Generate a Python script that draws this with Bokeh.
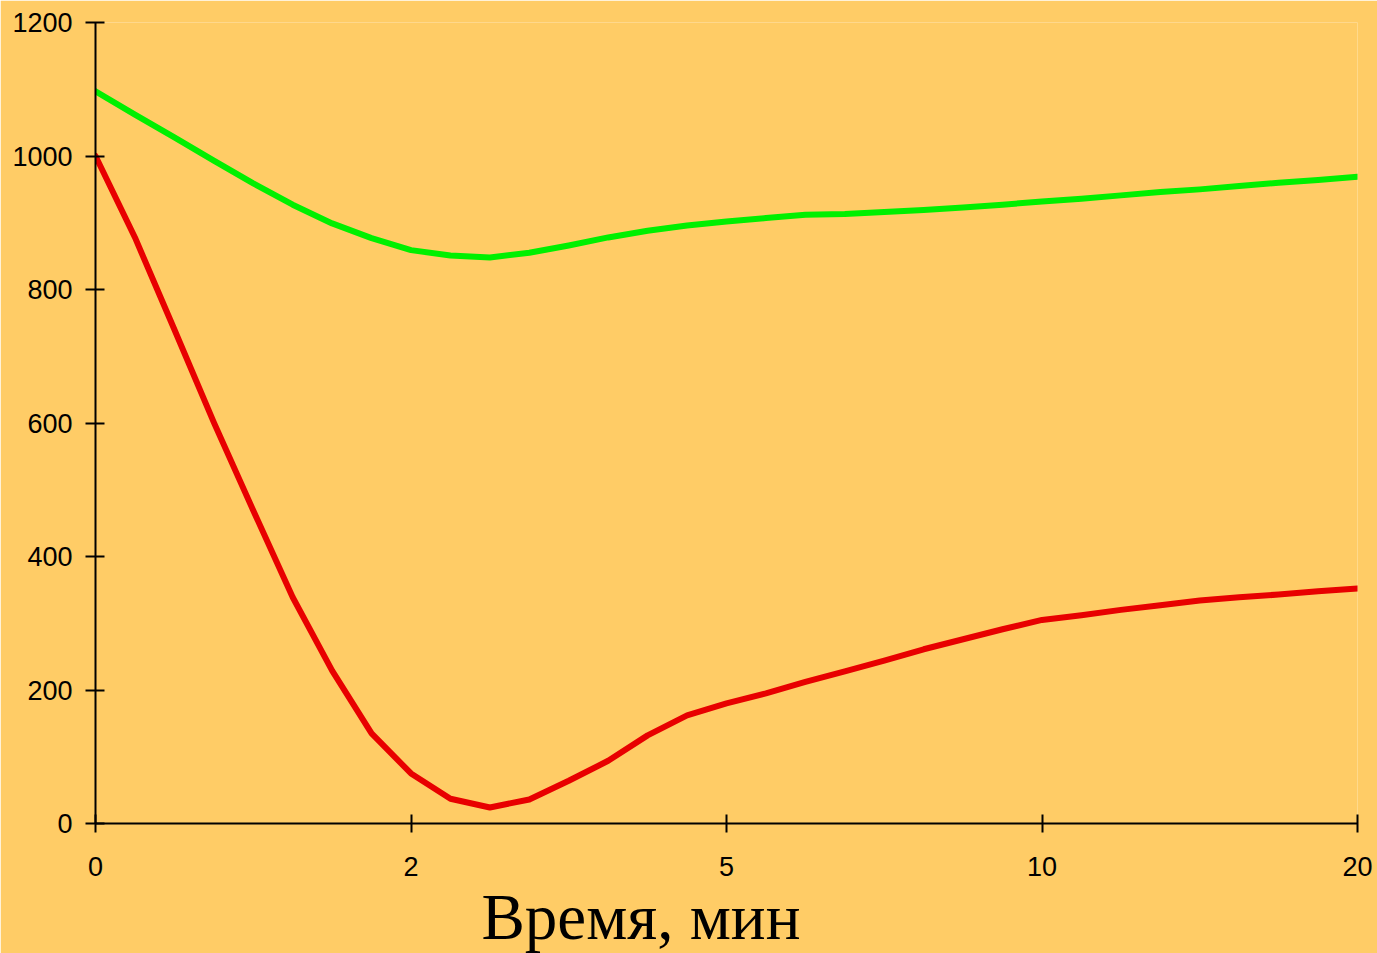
from bokeh.plotting import figure
from bokeh.models import Range1d, FixedTicker, Title
from bokeh.embed import file_html
from bokeh.resources import INLINE

# Category axis: 33 equally spaced samples, labelled every 8th sample
tick_positions = [0, 8, 16, 24, 32]
tick_labels = ["0", "2", "5", "10", "20"]
sample_index = list(range(33))

green_values = [1097, 1062, 1028, 993, 959, 927, 899, 877, 859, 851, 848,
                855, 866, 878, 888, 896, 902, 907, 912, 913, 916, 919,
                923, 927, 932, 936, 941, 946, 950, 955, 960, 964, 969]
red_values = [1000, 878, 740, 601, 469, 339, 229, 135, 75, 37, 24,
              36, 64, 94, 132, 162, 180, 195, 212, 228, 244, 261,
              276, 291, 305, 312, 320, 327, 334, 339, 343, 348, 352]

y_ticks = [0, 200, 400, 600, 800, 1000, 1200]
x_title = "Время, мин"

BG = "#FFCC66"

p = figure(width=1377, height=953, output_backend="svg", toolbar_location=None,
           x_range=Range1d(0, 32), y_range=Range1d(0, 1200),
           min_border_left=95, min_border_right=20, min_border_top=22,
           min_border_bottom=130)
p.background_fill_color = BG
p.border_fill_color = BG
p.outline_line_color = None
p.grid.visible = False

for ax in (p.xaxis[0], p.yaxis[0]):
    ax.axis_line_color = "black"
    ax.axis_line_width = 2
    ax.major_tick_line_color = "black"
    ax.major_tick_line_width = 2
    ax.minor_tick_line_color = None
    ax.major_label_text_font = "Liberation Sans"
    ax.major_label_text_font_size = "27px"
    ax.major_label_text_color = "black"

p.xaxis.ticker = FixedTicker(ticks=tick_positions)
p.xaxis.major_label_overrides = {t: l for t, l in zip(tick_positions, tick_labels)}
p.xaxis.major_tick_in = 9
p.xaxis.major_tick_out = 9
p.xaxis.major_label_standoff = 24

p.yaxis.ticker = FixedTicker(ticks=y_ticks)
p.yaxis.major_tick_in = 9
p.yaxis.major_tick_out = 10
p.yaxis.major_label_standoff = 13

p.line(sample_index, green_values, line_color="#00F000", line_width=6,
       line_join="round", line_cap="round")
p.line(sample_index, red_values, line_color="#E80000", line_width=6,
       line_join="round", line_cap="round")

title = Title(text=x_title, align="left", offset=386, standoff=0,
              text_font="Liberation Serif", text_font_size="65px",
              text_font_style="normal", text_color="black")
p.add_layout(title, "below")

open("out.html", "w").write(file_html(p, INLINE))
